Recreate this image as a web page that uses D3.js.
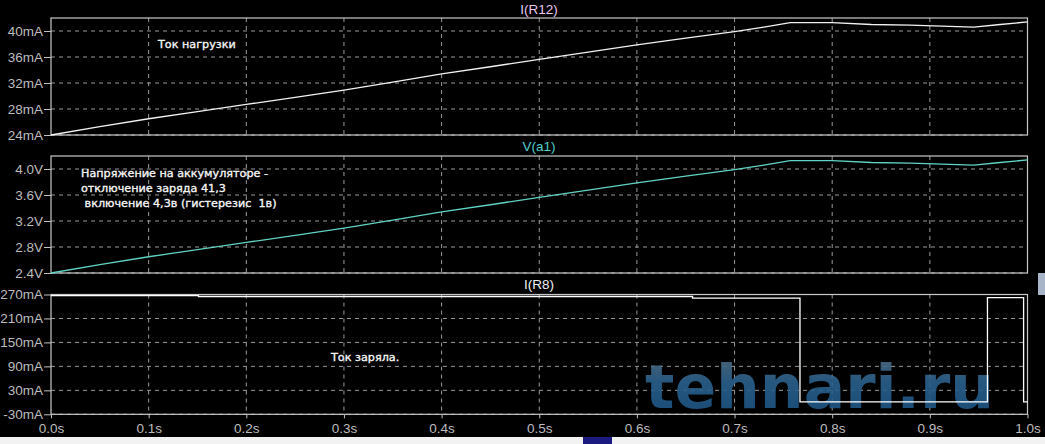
<!DOCTYPE html>
<html><head><meta charset="utf-8">
<script src="https://cdn.jsdelivr.net/npm/d3@7"></script>
<style>html,body{margin:0;padding:0;background:#000;overflow:hidden}</style>
</head><body>
<svg id="c" width="1045" height="444"></svg>
<script>
// ---- data ----
const xTicks = [0,0.1,0.2,0.3,0.4,0.5,0.6,0.7,0.8,0.9,1.0];
const xTickLabels = ["0.0s","0.1s","0.2s","0.3s","0.4s","0.5s","0.6s","0.7s","0.8s","0.9s","1.0s"];

const loadT = [0,0.05,0.1,0.15,0.2,0.25,0.3,0.35,0.4,0.45,0.5,0.55,0.6,0.65,0.7,0.73,0.757,0.8,0.84,0.88,0.92,0.945,0.972,1.0];
const loadI = [24,25.3,26.5,27.6,28.7,29.8,30.9,32.15,33.4,34.5,35.65,36.75,37.85,38.9,39.9,40.6,41.3,41.3,41.0,40.9,40.7,40.6,41.0,41.4];
const loadTicks = [24,28,32,36,40];
const loadTickLabels = ["24mA","28mA","32mA","36mA","40mA"];

const battT = [0,0.05,0.1,0.15,0.2,0.25,0.3,0.35,0.4,0.45,0.5,0.55,0.6,0.65,0.7,0.73,0.757,0.8,0.84,0.88,0.92,0.945,0.972,1.0];
const battV = [2.40,2.53,2.65,2.76,2.87,2.98,3.09,3.215,3.34,3.45,3.565,3.675,3.785,3.89,3.99,4.06,4.13,4.13,4.10,4.09,4.07,4.06,4.10,4.14];
const battTicks = [2.4,2.8,3.2,3.6,4.0];
const battTickLabels = ["2.4V","2.8V","3.2V","3.6V","4.0V"];

const chargeT = [0,0.151,0.657,0.767,0.959,0.996,1.0];
const chargeI = [267,265,261,1,262,1,1];
const chargeTicks = [-30,30,90,150,210,270];
const chargeTickLabels = ["-30mA","30mA","90mA","150mA","210mA","270mA"];

const titles = ["I(R12)","V(a1)","I(R8)"];
const notes1 = ["Ток нагрузки"];
const notes2 = ["Напряжение на аккумуляторе -","отключение заряда 41,3"," включение 4,3в (гистерезис  1в)"];
const notes3 = ["Ток заряла."];
const watermark = "tehnari.ru";

// ---- layout ----
const svg = d3.select("#c");
svg.append("rect").attr("width",1045).attr("height",444).attr("fill","#000");
const X0 = 51, X1 = 1027.5;
const x = d3.scaleLinear().domain([0,1]).range([X0,X1]);

const panels = [
  {top:18, bot:135, dom:[24,42], ticks:loadTicks, labels:loadTickLabels, T:loadT, Y:loadI, color:"#f4f0f4", title:titles[0], tcol:"#e8c8ee", ty:14, curve:d3.curveLinear},
  {top:156, bot:273, dom:[2.4,4.2], ticks:battTicks, labels:battTickLabels, T:battT, Y:battV, color:"#5fd3c4", title:titles[1], tcol:"#4fd0c8", ty:151, curve:d3.curveLinear},
  {top:294.5, bot:414.3, dom:[-30,270], ticks:chargeTicks, labels:chargeTickLabels, T:chargeT, Y:chargeI, color:"#ffffff", title:titles[2], tcol:"#f0f0f0", ty:289, curve:d3.curveStepAfter}
];

const font = "'Liberation Sans', Arial, sans-serif";
const defs = svg.append("defs");
const grad = defs.append("linearGradient").attr("id","wm").attr("x1",0).attr("y1",0).attr("x2",0).attr("y2",1);
grad.append("stop").attr("offset","0%").attr("stop-color","#5d7284");
grad.append("stop").attr("offset","45%").attr("stop-color","#2a6391");
grad.append("stop").attr("offset","100%").attr("stop-color","#1b5585");

panels.forEach((p,i) => {
  const y = d3.scaleLinear().domain(p.dom).range([p.bot,p.top]);
  const g = svg.append("g");
  // grid
  g.selectAll(".hg").data(p.ticks).join("line")
    .attr("x1",X0).attr("x2",X1).attr("y1",d=>y(d)).attr("y2",d=>y(d))
    .attr("stroke","#9a9a9a").attr("stroke-width",1).attr("stroke-dasharray","4,4");
  g.selectAll(".vg").data(xTicks.slice(1,-1)).join("line")
    .attr("x1",d=>x(d)).attr("x2",d=>x(d)).attr("y1",p.top).attr("y2",p.bot)
    .attr("stroke","#9a9a9a").attr("stroke-width",1).attr("stroke-dasharray","4,4");
  // y axis
  const ya = d3.axisLeft(y).tickValues(p.ticks).tickFormat((d,k)=>p.labels[k]).tickSize(7).tickPadding(1);
  const ag = svg.append("g").attr("transform",`translate(${X0},0)`).call(ya);
  ag.select(".domain").remove();
  ag.selectAll("line").attr("stroke","#c0c0c0");
  ag.selectAll("text").attr("fill","#bcbcbc").style("font-family",font).style("font-size","13.5px");
  if (i===2) {
    // watermark under line
    svg.append("text").attr("x",645).attr("y",408).text(watermark)
      .attr("fill","url(#wm)").attr("opacity",0.88)
      .style("font-family","'DejaVu Sans', sans-serif").style("font-weight","bold").style("font-size","61px")
      .attr("textLength",349).attr("lengthAdjust","spacingAndGlyphs");
  }
  // frame
  svg.append("rect").attr("x",X0).attr("y",p.top).attr("width",X1-X0).attr("height",p.bot-p.top)
    .attr("fill","none").attr("stroke","#c8c8c8").attr("stroke-width",1.2);
  // line
  const line = d3.line().x((d,k)=>x(p.T[k])).y(d=>y(d)).curve(p.curve);
  svg.append("path").datum(p.Y).attr("d",line).attr("fill","none").attr("stroke",p.color).attr("stroke-width",1.3);
  // title
  svg.append("text").attr("x",539).attr("y",p.ty).attr("text-anchor","middle").text(p.title)
    .attr("fill",p.tcol).style("font-family",font).style("font-size","13.5px");
  if (i===2) {
    const xa = d3.axisBottom(x).tickValues(xTicks).tickFormat((d,k)=>xTickLabels[k]).tickSize(4).tickPadding(5);
    const xg = svg.append("g").attr("transform",`translate(0,${p.bot})`).call(xa);
    xg.select(".domain").remove();
    xg.selectAll("line").attr("stroke","#c0c0c0");
    xg.selectAll("text").attr("fill","#bcbcbc").style("font-family",font).style("font-size","13.5px");
  }
});

// annotations
const nf = (sel)=>sel.attr("fill","#f6f6f6").attr("stroke","#f6f6f6").attr("stroke-width",0.35)
  .style("font-family","'DejaVu Sans', sans-serif").style("font-size","11.2px");
nf(svg.append("text").attr("x",158).attr("y",48).text(notes1[0]));
notes2.forEach((t,k)=>nf(svg.append("text").attr("x",81).attr("y",177+k*15).attr("xml:space","preserve").style("white-space","pre").text(t)));
nf(svg.append("text").attr("x",331).attr("y",361).text(notes3[0]));

// screenshot edge remnants
svg.append("rect").attr("x",0).attr("y",437).attr("width",1045).attr("height",7).attr("fill","#f2f2f2");
svg.append("rect").attr("x",583).attr("y",437).attr("width",29).attr("height",7).attr("fill","#1a1a80");
svg.append("rect").attr("x",1038).attr("y",273).attr("width",7).attr("height",22).attr("fill","#a8b4c8");
</script>
</body></html>
